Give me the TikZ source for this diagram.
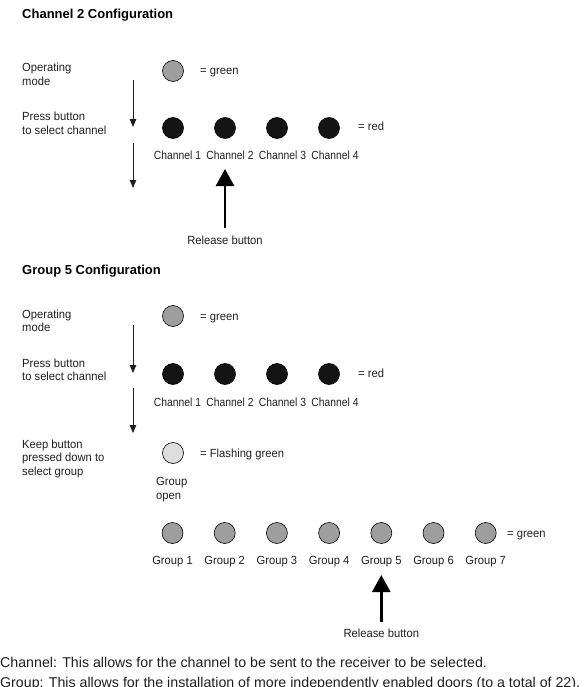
\documentclass[tikz,border=0pt]{standalone}
\usepackage{fontspec}
\setmainfont{Liberation Sans}
\newfontfamily\condfont{Liberation Sans}[FakeStretch=0.95]
\usetikzlibrary{arrows.meta}
\definecolor{ledgreen}{RGB}{158,158,158}
\definecolor{ledflash}{RGB}{222,222,222}
\definecolor{ledred}{RGB}{20,20,20}
\definecolor{txt}{RGB}{30,30,30}
\newcommand{\narrowtxt}[1]{\scalebox{0.92}[1]{#1}}
\begin{document}
\begin{tikzpicture}[x=1pt,y=-1pt,
  lbl/.style={anchor=base west,inner sep=0pt,align=left,text=txt,
    font=\condfont\fontsize{11.8}{13.5}\selectfont},
  clbl/.style={anchor=base,inner sep=0pt,text=txt,font=\condfont\fontsize{11.8}{13.5}\selectfont},
  ttl/.style={anchor=base west,inner sep=0pt,text=black,
    font=\fontsize{13}{14}\selectfont\bfseries},
  foot/.style={anchor=base west,inner sep=0pt,text=txt,
    font=\fontsize{14.2}{16}\selectfont},
  led/.style={circle,draw=black,line width=0.6pt,minimum size=21pt,inner sep=0pt},
  gled/.style={led,fill=ledgreen},
  fled/.style={led,fill=ledflash},
  rled/.style={led,fill=ledred},
  flow/.style={line width=0.8pt,draw=txt,-{Triangle[length=8pt,width=6.5pt]}},
  release/.style={line width=2.6pt,draw=black,-{Triangle[length=17pt,width=18pt]}}
]
\useasboundingbox (0,0) rectangle (583,687);

% ---------- Channel 2 Configuration ----------
\node[ttl] (t1) at (22,19) {Channel 2 Configuration};
\node[lbl] (op1) at (22,85.5) {Operating\\mode};
\node[lbl] (pb1) at (22,134.5) {Press button\\to select channel};
\node[gled] (g1) at (173,71) {};
\node[lbl] (g1l) at (200,75) {= green};
\foreach \i/\x in {1/173,2/225,3/277,4/329}{
  \node[rled] (r1\i) at (\x,128) {};
}
\node[lbl] (r1l) at (358,131) {= red};
\foreach \i/\x in {1/177.5,2/230,3/282.5,4/335}{
  \node[clbl] (c1\i) at (\x,160) {\narrowtxt{Channel \i}};
}
\coordinate (a1s) at (133,80);
\coordinate (a1e) at (133,127);
\coordinate (a2s) at (133,143);
\coordinate (a2e) at (133,188);
\draw[flow] (a1s) -- (a1e);
\draw[flow] (a2s) -- (a2e);
\node[clbl] (rb1) at (225,244) {Release button};
\coordinate (b1s) at (225,228);
\coordinate (b1e) at (225,169);
\draw[release] (b1s) -- (b1e);

% ---------- Group 5 Configuration ----------
\node[ttl] (t2) at (22,274) {Group 5 Configuration};
\node[lbl] (op2) at (22,331.5) {Operating\\mode};
\node[lbl] (pb2) at (22,380.5) {Press button\\to select channel};
\node[lbl] (kb2) at (22,475) {Keep button\\pressed down to\\select group};
\node[gled] (g2) at (173,316) {};
\node[lbl] (g2l) at (200,320) {= green};
\foreach \i/\x in {1/173,2/225,3/277,4/329}{
  \node[rled] (r2\i) at (\x,374) {};
}
\node[lbl] (r2l) at (358,377) {= red};
\foreach \i/\x in {1/177.5,2/230,3/282.5,4/335}{
  \node[clbl] (c2\i) at (\x,406) {\narrowtxt{Channel \i}};
}
\coordinate (a3s) at (133,325);
\coordinate (a3e) at (133,373);
\coordinate (a4s) at (133,388);
\coordinate (a4e) at (133,433);
\draw[flow] (a3s) -- (a3e);
\draw[flow] (a4s) -- (a4e);
\node[fled] (f2) at (173,453) {};
\node[lbl] (f2l) at (200,457) {= Flashing green};
\node[lbl] (go2) at (156,499) {Group\\open};
\foreach \i/\x in {1/172.5,2/224.7,3/276.9,4/329.1,5/381.3,6/433.5,7/485.7}{
  \node[gled] (gg\i) at (\x,533) {};
  \node[clbl] (gl\i) at (\x,564) {Group \i};
}
\node[lbl] (ggl) at (507,537) {= green};
\node[clbl] (rb2) at (381.3,637) {Release button};
\coordinate (b2s) at (381.3,622);
\coordinate (b2e) at (381.3,575);
\draw[release] (b2s) -- (b2e);

% ---------- Notes ----------
\node[foot] (n1) at (0,667) {Channel: This allows for the channel to be sent to the receiver to be selected.};
\node[foot] (n2) at (0,687) {Group: This allows for the installation of more independently enabled doors (to a total of 22).};
\end{tikzpicture}
\end{document}
